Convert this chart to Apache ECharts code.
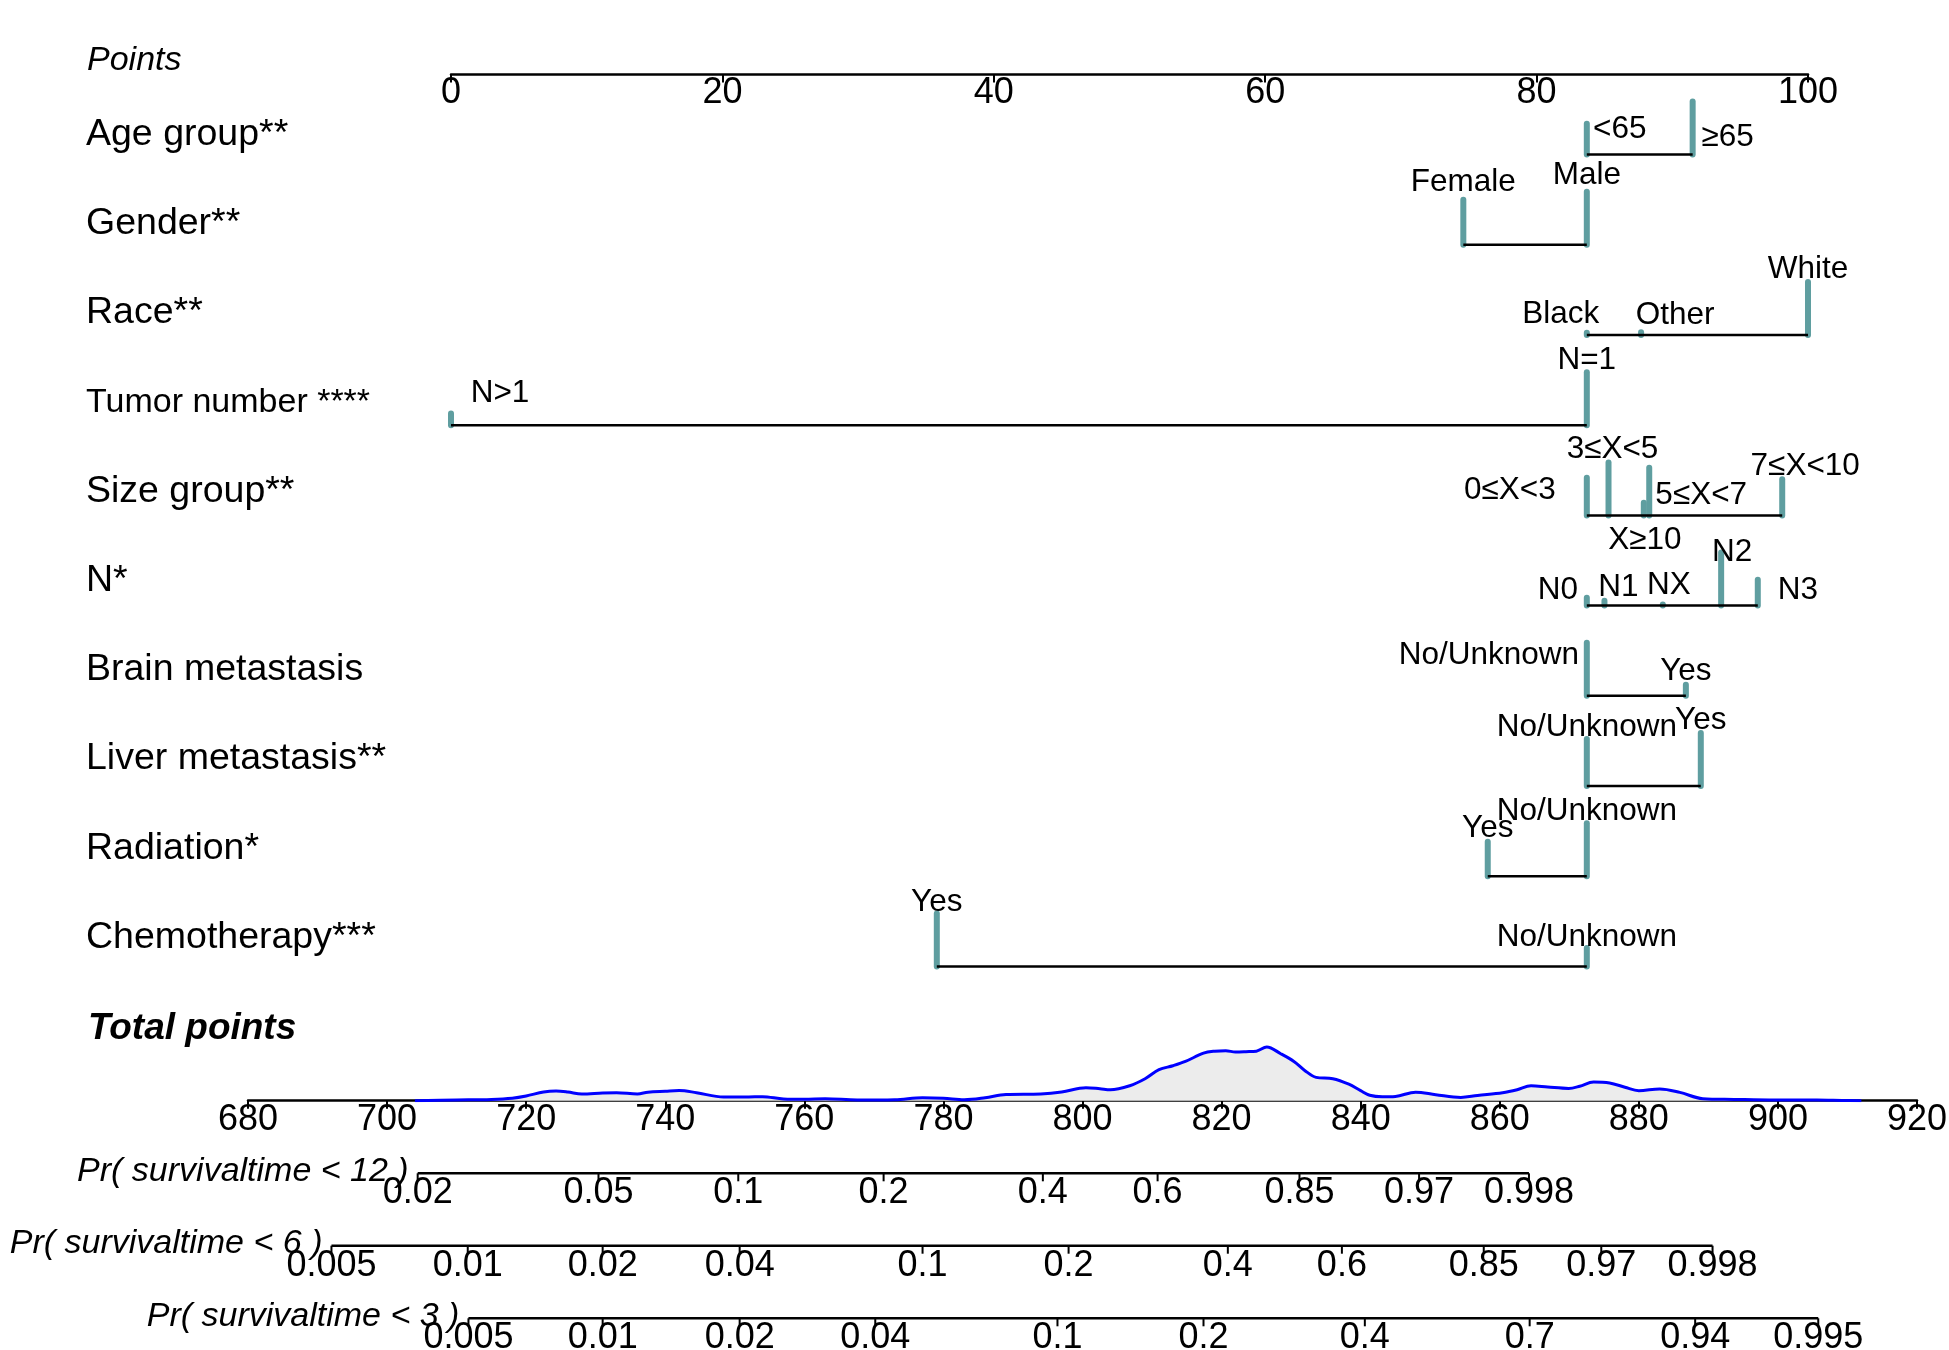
<!DOCTYPE html>
<html><head><meta charset="utf-8">
<script src="https://cdn.jsdelivr.net/npm/echarts@6/dist/echarts.min.js"></script>
<style>html,body{margin:0;padding:0;background:#fff}#c{width:1949px;height:1350px}</style>
</head><body><div id="c"></div>
<script>
// ================= DATA =================
const ROW_NAMES = ['Age group**','Gender**','Race**','Tumor number ****','Size group**','N*','Brain metastasis','Liver metastasis**','Radiation*','Chemotherapy***'];
const LEVEL_NAMES = [
  ['<65','≥65'],
  ['Female','Male'],
  ['Black','Other','White'],
  ['N>1','N=1'],
  ['0≤X<3','3≤X<5','X≥10','5≤X<7','7≤X<10'],
  ['N0','N1','NX','N2','N3'],
  ['No/Unknown','Yes'],
  ['No/Unknown','Yes'],
  ['Yes','No/Unknown'],
  ['Yes','No/Unknown']
];
const LEVEL_POINTS = [
  [83.7, 91.5],
  [74.6, 83.7],
  [83.7, 87.7, 100],
  [0, 83.7],
  [83.7, 85.3, 87.9, 88.3, 98.1],
  [83.7, 85.0, 89.3, 93.6, 96.3],
  [83.7, 91.0],
  [83.7, 92.1],
  [76.4, 83.7],
  [35.8, 83.7]
];
const LEVEL_FREQ = [
  [0.58, 1.0],
  [0.85, 1.0],
  [0.04, 0.05, 1.0],
  [0.22, 1.0],
  [0.71, 1.0, 0.24, 0.90, 0.68],
  [0.15, 0.09, 0.02, 1.0, 0.49],
  [1.0, 0.21],
  [0.89, 1.0],
  [0.65, 1.0],
  [1.0, 0.35]
];
const POINTS_MIN = 0, POINTS_MAX = 100, POINTS_STEP = 20;
const TOTAL_MIN = 680, TOTAL_MAX = 920, TOTAL_STEP = 20;

const DENS_X = [704,710,715,718,720,722.5,724.3,726,728,731,733,736,737.5,740,742,744.5,748.4,752,754,757,760,763,767.6,773,777,780,783,786,789,794,797,800.5,802.5,804,806.8,809,811,813,814.8,817.4,819,820.6,822,823.5,825,826.5,828.5,830.4,832,833.6,836,838.3,840,841.3,843.1,845,847.9,850.8,854.4,856.8,860.4,862.5,864.5,866.9,869.9,871.5,873.5,875.8,878,880,883,885.9,889.2,893.7,899.6,905.6,909.2,912];
const DENS_Y = [0,0.7,1.3,2.5,4.7,8.7,9.7,8.7,6.7,7.7,8,6.8,8.5,9.5,10.2,8,3.7,3.8,4,1.8,1.5,2,0.7,1,3,2.5,1,3,6.3,6.8,8.7,13,12,11,15,22,31,35,39.3,47.5,49.5,50,48.7,49,49.5,53.7,47,39.3,30,23.3,22,16.5,10,5.5,4,4.3,8.5,6,3.3,5.3,8,11,15,13.7,12.3,14.5,18.7,17.7,13.5,10,11.7,8.3,2,1.3,0.7,0.7,0.3,0];

const PROB_TITLES = ['Pr( survivaltime < 12 )','Pr( survivaltime < 6 )','Pr( survivaltime < 3 )'];
const PR12_TICKS = ['0.02','0.05','0.1','0.2','0.4','0.6','0.85','0.97','0.998'];
const PR12_AT    = [704.4, 730.4, 750.5, 771.4, 794.3, 810.8, 831.2, 848.4, 864.2];
const PR6_TICKS  = ['0.005','0.01','0.02','0.04','0.1','0.2','0.4','0.6','0.85','0.97','0.998'];
const PR6_AT     = [692.0, 711.6, 731.0, 750.7, 777.0, 798.0, 820.9, 837.3, 857.7, 874.6, 890.6];
const PR3_TICKS  = ['0.005','0.01','0.02','0.04','0.1','0.2','0.4','0.7','0.94','0.995'];
const PR3_AT     = [711.7, 731.0, 750.7, 770.2, 796.4, 817.4, 840.6, 864.3, 888.1, 905.8];

// ================= STYLE / LAYOUT =================
const FONT = '"Liberation Sans", Arial, Helvetica, sans-serif';
const TEAL = '#5F9EA0';
const W = 1949;
const PTS_LEFT = 451, PTS_RIGHT = W - 1808;
const TOT_LEFT = 248, TOT_RIGHT = W - 1917;
const ROW_TOP = 64.3, ROW_STEP = 90.22;
const SPIKE_UNIT = 53 / ROW_STEP;       // full-height spike in row units
const PROB_LINE_Y = [1173.3, 1245.7, 1318.3];
const TICK_FONT = 36, LEVEL_FONT = 31.5, ROW_FONT = 37.5;
const LABEL_DY = 2.5;
// label offsets (px) relative to the top of each spike
const LABEL_SHIFT = [
  [[33, 3], [35, 33]],
  [[0, -20], [0, -19]],
  [[-26, -21], [34, -19], [0, -15]],
  [[49, -23], [0, -14]],
  [[-77, 10], [4, -16], [1, 35], [52, 25], [23, -16]],
  [[-29, -10], [14, -16], [6, -22], [11, -3], [40, 8]],
  [[-98, 10], [0, -16]],
  [[0, -14], [0, -15]],
  [[0, -16], [0, -14]],
  [[0, -14], [0, -13]]
];

// ================= BUILD =================
const spikeData = [], spikeMeta = [], baseData = [];
ROW_NAMES.forEach((r, i) => {
  LEVEL_POINTS[i].forEach((p, j) => {
    spikeData.push([p, i, LEVEL_FREQ[i][j]]);
    spikeMeta.push({ name: LEVEL_NAMES[i][j], shift: LABEL_SHIFT[i][j] });
  });
  baseData.push([Math.min(...LEVEL_POINTS[i]), Math.max(...LEVEL_POINTS[i]), i]);
});

function spikeRender(params, api) {
  const m = spikeMeta[params.dataIndex];
  const x = api.value(0), row = api.value(1), f = api.value(2);
  const b = api.coord([x, row]);
  const t = api.coord([x, row - f * SPIKE_UNIT]);
  return { type: 'group', children: [
    { type: 'line', shape: { x1: b[0], y1: b[1], x2: t[0], y2: t[1] },
      style: { stroke: TEAL, lineWidth: 6, lineCap: 'round' } },
    { type: 'text', x: t[0] + m.shift[0], y: t[1] + m.shift[1] + LABEL_DY,
      style: { text: m.name, fill: '#000', font: LEVEL_FONT + 'px ' + FONT, align: 'center', verticalAlign: 'middle' } }
  ]};
}
function baseRender(params, api) {
  const a = api.coord([api.value(0), api.value(2)]);
  const b = api.coord([api.value(1), api.value(2)]);
  return { type: 'line', shape: { x1: a[0], y1: a[1], x2: b[0], y2: b[1] },
           style: { stroke: '#000', lineWidth: 2.5 } };
}
function probRenderFactory(labels, title) {
  return function (params, api) {
    const c = api.coord([api.value(0), 0]);
    const ch = [
      { type: 'line', shape: { x1: c[0], y1: c[1], x2: c[0], y2: c[1] + 8 }, style: { stroke: '#000', lineWidth: 2 } },
      { type: 'text', x: c[0], y: c[1] + 20,
        style: { text: labels[params.dataIndex], fill: '#000', font: TICK_FONT + 'px ' + FONT, align: 'center', verticalAlign: 'middle' } }
    ];
    if (params.dataIndex === 0) {
      ch.push({ type: 'text', x: c[0] - 9, y: c[1] - 2,
        style: { text: title, fill: '#000', font: 'italic 34px ' + FONT, align: 'right', verticalAlign: 'middle' } });
    }
    return { type: 'group', children: ch };
  };
}

const hidden = { show: false };
const grids = [
  { left: PTS_LEFT, right: PTS_RIGHT, top: 73.5, height: 1 },                 // 0 points axis
  { left: PTS_LEFT, right: PTS_RIGHT, top: ROW_TOP, height: ROW_STEP * 10 },  // 1 rows
  { left: PTS_LEFT, right: PTS_RIGHT, top: 134.5, height: 803 },              // 2 row names
  { left: TOT_LEFT, right: TOT_RIGHT, top: 1100.7 - 62, height: 62 },         // 3 total points
];
PROB_LINE_Y.forEach(y => grids.push({ left: TOT_LEFT, right: TOT_RIGHT, top: y - 1, height: 2 }));
grids.forEach(g => { g.outerBoundsMode = 'none'; g.containLabel = false; });

const axisTextStyle = { color: '#000', fontSize: TICK_FONT, fontFamily: FONT };
const xAxes = [
  { gridIndex: 0, type: 'value', min: POINTS_MIN, max: POINTS_MAX, interval: POINTS_STEP, position: 'bottom',
    axisLine: { lineStyle: { color: '#000', width: 2.5 } },
    axisTick: { length: 8, lineStyle: { color: '#000', width: 2 } },
    axisLabel: Object.assign({ margin: 1, showMinLabel: true, showMaxLabel: true }, axisTextStyle),
    splitLine: hidden },
  { gridIndex: 1, type: 'value', min: POINTS_MIN, max: POINTS_MAX, show: false },
  { gridIndex: 2, type: 'value', min: 0, max: 1, show: false },
  { gridIndex: 3, type: 'value', min: TOTAL_MIN, max: TOTAL_MAX, interval: TOTAL_STEP, position: 'bottom',
    axisLine: { lineStyle: { color: '#000', width: 2.5 } },
    axisTick: { length: 8, lineStyle: { color: '#000', width: 2 } },
    axisLabel: Object.assign({ margin: 1, showMinLabel: true, showMaxLabel: true }, axisTextStyle),
    splitLine: hidden },
];
const yAxes = [
  { gridIndex: 0, type: 'value', show: false },
  { gridIndex: 1, type: 'value', min: -1, max: 9, inverse: true, show: false },
  { gridIndex: 2, type: 'category', data: ROW_NAMES, inverse: true, boundaryGap: false,
    axisLine: hidden, axisTick: hidden, splitLine: hidden,
    axisLabel: { interval: 0, align: 'left', margin: PTS_LEFT - 86, color: '#000', fontSize: ROW_FONT, fontFamily: FONT,
      formatter: v => v.indexOf('Tumor') === 0 ? '{t|' + v + '}' : v,
      rich: { t: { fontSize: 34, fontFamily: FONT, color: '#000' } } } },
  { gridIndex: 3, type: 'value', min: 0, max: 62, show: false },
];
const probTicks = [PR12_TICKS, PR6_TICKS, PR3_TICKS];
const probAt = [PR12_AT, PR6_AT, PR3_AT];
const series = [
  { type: 'custom', xAxisIndex: 1, yAxisIndex: 1, data: spikeData, renderItem: spikeRender, silent: true, encode: { x: 0, y: 1 } },
  { type: 'custom', xAxisIndex: 1, yAxisIndex: 1, data: baseData, renderItem: baseRender, silent: true, encode: { x: [0, 1], y: 2 } },
  { type: 'line', xAxisIndex: 3, yAxisIndex: 3, data: DENS_X.map((x, i) => [x, DENS_Y[i]]),
    smooth: 0.35, symbol: 'none', silent: true,
    lineStyle: { color: '#0000FF', width: 3 }, areaStyle: { color: '#ECECEC', opacity: 1 } },
];
probAt.forEach((at, k) => {
  const gi = 4 + k;
  xAxes.push({ gridIndex: gi, type: 'value', min: TOTAL_MIN, max: TOTAL_MAX, show: false });
  yAxes.push({ gridIndex: gi, type: 'value', min: -1, max: 1, show: false });
  series.push({ type: 'line', xAxisIndex: gi, yAxisIndex: gi, data: at.map(v => [v, 0]), symbol: 'none', silent: true,
    lineStyle: { color: '#000', width: 2.5 } });
  series.push({ type: 'custom', xAxisIndex: gi, yAxisIndex: gi, data: at.map(v => [v, 0]), silent: true,
    renderItem: probRenderFactory(probTicks[k], PROB_TITLES[k]), encode: { x: 0, y: 1 } });
});

const chart = echarts.init(document.getElementById('c'), null, { renderer: 'canvas' });
chart.setOption({
  animation: false,
  backgroundColor: '#fff',
  textStyle: { fontFamily: FONT },
  grid: grids, xAxis: xAxes, yAxis: yAxes, series: series,
  graphic: [
    { type: 'text', x: 87, y: 60.5, silent: true,
      style: { text: 'Points', fill: '#000', font: 'italic 34px ' + FONT, align: 'left', verticalAlign: 'middle' } },
    { type: 'text', x: 88, y: 1028.5, silent: true,
      style: { text: 'Total points', fill: '#000', font: 'italic bold 37px ' + FONT, align: 'left', verticalAlign: 'middle' } }
  ]
});
</script></body></html>
